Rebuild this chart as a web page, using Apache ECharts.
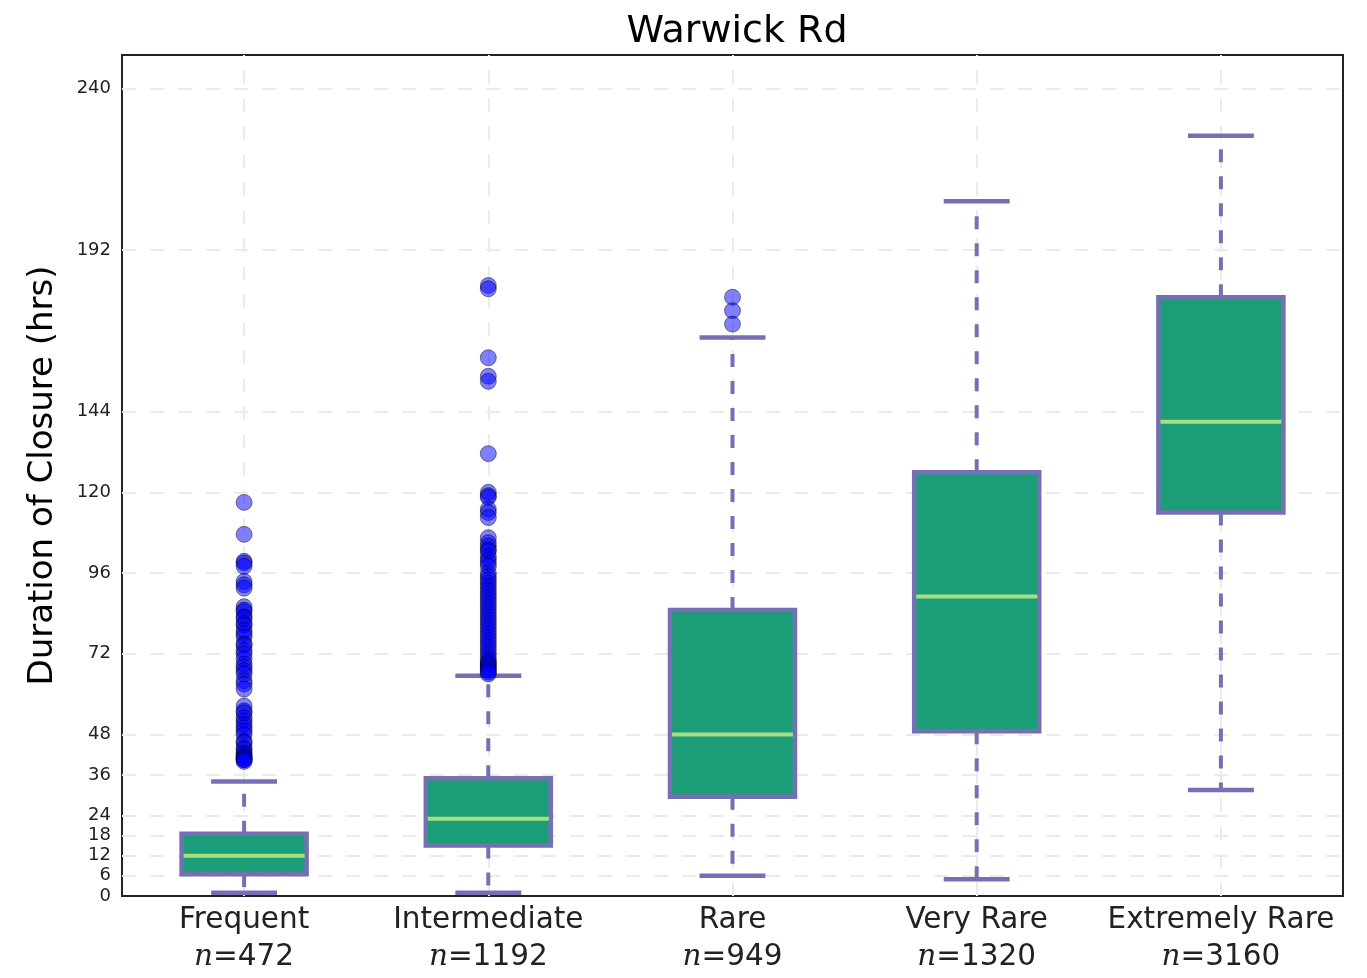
<!DOCTYPE html>
<html>
<head>
<meta charset="utf-8">
<script src="https://cdn.jsdelivr.net/npm/echarts@6/dist/echarts.min.js"></script>
<style>
html,body{margin:0;padding:0;background:#fff;}
#chart{width:1367px;height:978px;}
</style>
</head>
<body>
<div id="chart"></div>
<script>
// ---- data ----
const categories = ['Frequent', 'Intermediate', 'Rare', 'Very Rare', 'Extremely Rare'];
const counts = [472, 1192, 949, 1320, 3160];
const whiskerLow = [1, 1, 6, 5, 31.5];
const q1 = [6.5, 15, 29.5, 49, 114];
const median = [12, 23, 48, 89, 141];
const q3 = [18.5, 35, 85, 126, 178];
const whiskerHigh = [34, 65.5, 166, 206.5, 226];
const frequentOutliers = [117, 107.5, 99.5, 99, 98, 93.5, 92.5, 91.5, 86, 85, 84.5, 83, 82.5, 81, 80.5, 79, 78, 77, 75, 74.5, 73, 72, 70.5, 69, 68, 67, 66, 64, 63, 61.5, 56.5, 55, 54.5, 53, 52, 51, 50, 49, 48, 46, 45.5, 44, 43.5, 42.5, 42, 41.5, 41, 41, 40.5, 40.5, 40];
const intermediateOutliers = [181.5, 180.5, 160, 154.5, 153, 131.5, 120, 119, 118.5, 115, 114, 112.5, 106.5, 105, 104, 103, 102.5, 101, 100, 99, 98, 96, 95, 94, 93, 92, 91, 90, 89, 88, 87, 86, 85, 84, 83, 82, 81, 80, 79, 78, 77, 76, 75, 74, 73, 72, 71, 70, 69.5, 69, 68.5, 68, 67.5, 67, 66.5, 66];
const rareOutliers = [178, 174, 170];
const veryRareOutliers = [];
const extremelyRareOutliers = [];
const yTicks = [0, 6, 12, 18, 24, 36, 48, 72, 96, 120, 144, 192, 240];

// ---- build ----
const boxData = categories.map((c, i) => [i, whiskerLow[i], q1[i], median[i], q3[i], whiskerHigh[i]]);
const outlierLists = [frequentOutliers, intermediateOutliers, rareOutliers, veryRareOutliers, extremelyRareOutliers];
const outlierData = [];
outlierLists.forEach((list, i) => list.forEach(v => outlierData.push([i, v])));

const PURPLE = '#7570b3';
const GRID = '#ebebeb';

const chart = echarts.init(document.getElementById('chart'), null, {renderer: 'canvas'});

const gridMarks = yTicks.filter(v => v > 0).map(v => ({yAxis: v}))
  .concat(categories.map(c => ({xAxis: c})));

chart.setOption({
  animation: false,
  backgroundColor: '#fff',
  title: {
    text: 'Warwick Rd',
    left: 732,
    textAlign: 'center',
    top: 8,
    textStyle: {fontFamily: 'DejaVu Sans', fontSize: 38, fontWeight: 'normal', color: '#000'}
  },
  grid: {
    left: 122, right: 24, top: 55, bottom: 82,
    show: true, borderColor: '#222', borderWidth: 2, backgroundColor: 'transparent'
  },
  xAxis: {
    type: 'category',
    data: categories,
    boundaryGap: true,
    axisLine: {show: true, lineStyle: {color: '#222', width: 2}},
    axisTick: {show: true, inside: true, alignWithLabel: true, length: 9, lineStyle: {color: '#222', width: 1}},
    splitLine: {show: false},
    axisLabel: {
      margin: 6,
      interval: 0,
      formatter: (value, idx) => '{c|' + value + '}\n{n|n}{e|=' + counts[idx] + '}',
      rich: {
        c: {fontFamily: 'DejaVu Sans', fontSize: 29.5, color: '#222', lineHeight: 37},
        n: {fontFamily: 'DejaVu Serif', fontStyle: 'italic', fontSize: 29.5, color: '#222', lineHeight: 37},
        e: {fontFamily: 'DejaVu Sans', fontSize: 29.5, color: '#222', lineHeight: 37}
      }
    }
  },
  yAxis: {
    type: 'value',
    min: 0,
    max: 250,
    name: 'Duration of Closure (hrs)',
    nameLocation: 'middle',
    nameGap: 62,
    nameTextStyle: {fontFamily: 'DejaVu Sans', fontSize: 34, color: '#000'},
    axisLine: {show: true, lineStyle: {color: '#222', width: 2}},
    axisTick: {show: true, inside: true, length: 9, customValues: yTicks, lineStyle: {color: '#222', width: 1}},
    axisLabel: {show: true, customValues: yTicks, margin: 11, fontFamily: 'DejaVu Sans', fontSize: 18, color: '#222'},
    splitLine: {show: false}
  },
  series: [
    {
      type: 'line',
      data: [],
      silent: true,
      z: 1,
      markLine: {
        z: 1,
        silent: true,
        symbol: 'none',
        label: {show: false},
        lineStyle: {color: GRID, type: [14, 14], width: 2},
        emphasis: {disabled: true},
        data: gridMarks
      }
    },
    {
      type: 'custom',
      z: 3,
      data: boxData,
      encode: {x: 0, y: [1, 2, 3, 4, 5]},
      renderItem: (params, api) => {
        const xi = api.value(0);
        const band = api.size([1, 0])[0];
        const bw = band * 0.512;
        const cw = band * 0.27;
        const pLo = api.coord([xi, api.value(1)]);
        const pQ1 = api.coord([xi, api.value(2)]);
        const pMed = api.coord([xi, api.value(3)]);
        const pQ3 = api.coord([xi, api.value(4)]);
        const pHi = api.coord([xi, api.value(5)]);
        const cx = pLo[0];
        const dash = {stroke: PURPLE, lineWidth: 4, lineDash: [13, 14], fill: null};
        return {
          type: 'group',
          children: [
            {type: 'line', shape: {x1: cx, y1: pQ1[1], x2: cx, y2: pLo[1]}, style: dash},
            {type: 'line', shape: {x1: cx, y1: pQ3[1], x2: cx, y2: pHi[1]}, style: dash},
            {type: 'line', shape: {x1: cx - cw / 2, y1: pLo[1], x2: cx + cw / 2, y2: pLo[1]}, style: {stroke: PURPLE, lineWidth: 4.5}},
            {type: 'line', shape: {x1: cx - cw / 2, y1: pHi[1], x2: cx + cw / 2, y2: pHi[1]}, style: {stroke: PURPLE, lineWidth: 4.5}},
            {type: 'rect', shape: {x: cx - bw / 2, y: pQ3[1], width: bw, height: pQ1[1] - pQ3[1]},
              style: {fill: '#1b9e77', stroke: PURPLE, lineWidth: 4.5}},
            {type: 'line', shape: {x1: cx - bw / 2 + 2, y1: pMed[1], x2: cx + bw / 2 - 2, y2: pMed[1]},
              style: {stroke: '#aadc82', lineWidth: 4}}
          ]
        };
      }
    },
    {
      type: 'scatter',
      z: 4,
      data: outlierData,
      symbol: 'circle',
      symbolSize: 16,
      itemStyle: {color: 'rgba(0,0,255,0.5)', borderColor: 'rgba(0,0,0,0.45)', borderWidth: 1, opacity: 1},
      emphasis: {disabled: true}
    }
  ]
});
</script>
</body>
</html>
